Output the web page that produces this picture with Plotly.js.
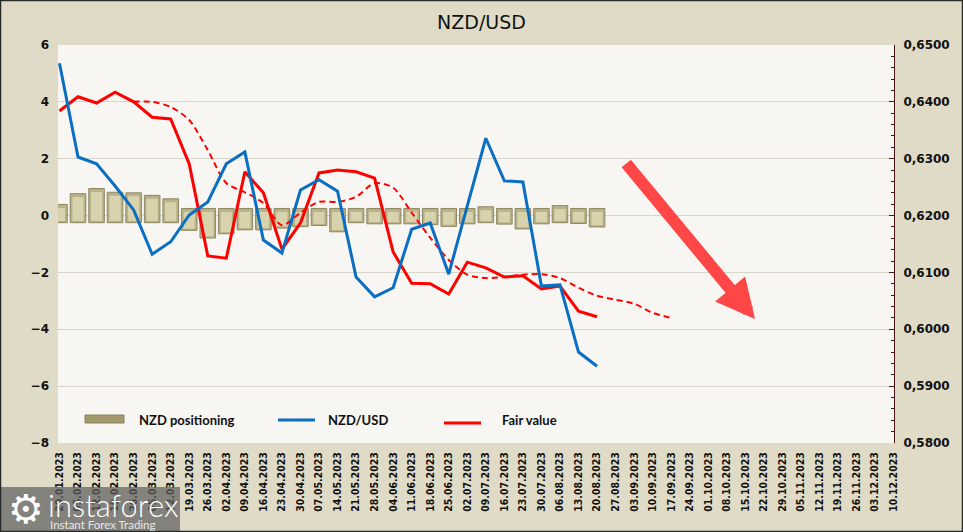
<!DOCTYPE html>
<html>
<head>
<meta charset="utf-8">
<script src="https://cdn.plot.ly/plotly-3.0.1.min.js"></script>
<style>
  html, body { margin: 0; padding: 0; background: #DFDBC7; }
  #chart { width: 963px; height: 532px; }
</style>
</head>
<body>
<div id="chart"></div>
<script>
// weekly dates on the category axis
const dates = [
  '29.01.2023', '05.02.2023', '12.02.2023', '19.02.2023', '26.02.2023',
  '05.03.2023', '12.03.2023', '19.03.2023', '26.03.2023',
  '02.04.2023', '09.04.2023', '16.04.2023', '23.04.2023', '30.04.2023',
  '07.05.2023', '14.05.2023', '21.05.2023', '28.05.2023',
  '04.06.2023', '11.06.2023', '18.06.2023', '25.06.2023',
  '02.07.2023', '09.07.2023', '16.07.2023', '23.07.2023', '30.07.2023',
  '06.08.2023', '13.08.2023', '20.08.2023', '27.08.2023',
  '03.09.2023', '10.09.2023', '17.09.2023', '24.09.2023',
  '01.10.2023', '08.10.2023', '15.10.2023', '22.10.2023', '29.10.2023',
  '05.11.2023', '12.11.2023', '19.11.2023', '26.11.2023',
  '03.12.2023', '10.12.2023'
];

// NZD positioning (left axis)
const positioning = [
  0.14, 0.52, 0.70, 0.57, 0.55, 0.46, 0.34, -0.27, -0.54, -0.39,
  -0.25, -0.25, -0.19, -0.14, -0.10, -0.32, 0.00, -0.04, -0.04, -0.04,
  -0.07, -0.13, -0.04, 0.06, -0.05, -0.22, -0.04, 0.10, -0.03, -0.15
];

// NZD/USD rate (right axis)
const nzdusd = [
  0.6468, 0.6303, 0.6291, 0.6252, 0.6210, 0.6132, 0.6154, 0.6201, 0.6224, 0.6291,
  0.6312, 0.6157, 0.6134, 0.6245, 0.6263, 0.6243, 0.6092, 0.6057, 0.6073, 0.6176,
  0.6187, 0.6097, 0.6217, 0.6336, 0.6261, 0.6259, 0.6076, 0.6078, 0.5960, 0.5935
];

// fair value (right axis)
const fairValue = [
  0.6384, 0.6409, 0.6398, 0.6417, 0.6400, 0.6373, 0.6370, 0.6291, 0.6129, 0.6125,
  0.6277, 0.6240, 0.6141, 0.6187, 0.6275, 0.6280, 0.6277, 0.6266, 0.6136, 0.6081,
  0.6080, 0.6062, 0.6118, 0.6108, 0.6092, 0.6094, 0.6071, 0.6076, 0.6032, 0.6022
];

// smoothed fair value, starts at 26.02 and runs to 17.09
const fairTrendStart = 4;
const fairTrend = [
  0.6400, 0.6400, 0.6391, 0.6368, 0.6315, 0.6257, 0.6241, 0.6222, 0.6183, 0.6205,
  0.6224, 0.6224, 0.6233, 0.6257, 0.6249, 0.6205, 0.6161, 0.6122, 0.6096, 0.6090,
  0.6092, 0.6096, 0.6097, 0.6090, 0.6073, 0.6059, 0.6052, 0.6045, 0.6029, 0.6020
];

// plot area in pixels, used for the hand-made legend and decorations
const PL = 58, PR = 894, PT = 45, PB = 443;
const px = x => (x - PL) / (PR - PL);
const py = y => (PB - y) / (PB - PT);

const legendFont = 'Lato, "Open Sans", sans-serif';
const axisFont = '"DejaVu Sans", Verdana, sans-serif';

// bars are drawn with a bit of thickness on both sides of zero (bevelled look)
const barX = dates.slice(0, positioning.length);
const bars = {
  x: barX,
  y: positioning.map(v => Math.abs(v) + 0.5),
  base: positioning.map(v => Math.min(v, 0) - 0.25),
  type: 'bar',
  name: 'NZD positioning',
  width: 0.84,
  marker: { color: '#B9B188', line: { color: '#8E8763', width: 1 } },
  yaxis: 'y',
  showlegend: false
};
const barFaces = {
  x: barX,
  y: positioning.map(v => Math.abs(v) + 0.5 - 0.18),
  base: positioning.map(v => Math.min(v, 0) - 0.25 + 0.06),
  type: 'bar',
  width: 0.6,
  marker: { color: '#D8D2AD', line: { width: 0 } },
  yaxis: 'y',
  showlegend: false
};

const trend = {
  x: dates.slice(fairTrendStart, fairTrendStart + fairTrend.length),
  y: fairTrend,
  type: 'scatter',
  mode: 'lines',
  line: { color: '#FF0000', width: 2, dash: '6px,4px', shape: 'spline', smoothing: 0.8 },
  yaxis: 'y2',
  showlegend: false
};

const fair = {
  x: dates.slice(0, fairValue.length),
  y: fairValue,
  type: 'scatter',
  mode: 'lines',
  name: 'Fair value',
  line: { color: '#FF0000', width: 3 },
  yaxis: 'y2',
  showlegend: false
};

const rate = {
  x: dates.slice(0, nzdusd.length),
  y: nzdusd,
  type: 'scatter',
  mode: 'lines',
  name: 'NZD/USD',
  line: { color: '#0A6FC2', width: 3 },
  yaxis: 'y2',
  showlegend: false
};

const layout = {
  width: 963,
  height: 532,
  autosize: false,
  margin: { l: PL, r: 963 - PR, t: PT, b: 532 - PB, pad: 0 },
  paper_bgcolor: '#DFDBC7',
  plot_bgcolor: '#F7F6F2',
  separators: ',.',
  barmode: 'overlay',
  title: {
    text: 'NZD/USD',
    font: { family: axisFont, size: 19, color: '#111111' },
    x: 0.5, xanchor: 'center',
    y: 1 - 22 / 532, yref: 'container', yanchor: 'middle'
  },
  xaxis: {
    type: 'category',
    categoryorder: 'array',
    categoryarray: dates,
    range: [-0.08, dates.length - 1 + 0.02],
    tickangle: -90,
    tickfont: { family: '"Liberation Sans Narrow", "DejaVu Sans Condensed", sans-serif', size: 10.5, color: '#111111', weight: 'bold' },
    ticks: '',
    ticklabelstandoff: 6,
    showgrid: false,
    showline: false,
    zeroline: false,
    fixedrange: true
  },
  yaxis: {
    range: [-8, 6],
    dtick: 2,
    tick0: 0,
    tickfont: { family: axisFont, size: 12, color: '#111111', weight: 'bold' },
    ticklabelstandoff: 8,
    showgrid: true,
    gridcolor: '#D8D5CD',
    gridwidth: 1,
    zeroline: false,
    showline: false,
    ticks: ''
  },
  yaxis2: {
    overlaying: 'y',
    side: 'right',
    range: [0.58, 0.65],
    dtick: 0.01,
    tick0: 0.58,
    tickformat: '.4f',
    tickfont: { family: axisFont, size: 12, color: '#111111', weight: 'bold' },
    ticklabelstandoff: 6,
    showgrid: false,
    zeroline: false,
    showline: true,
    linecolor: '#4A1414',
    linewidth: 1,
    ticks: 'inside',
    ticklen: 5,
    tickcolor: '#4A1414',
    minor: { dtick: 0.002, ticks: 'inside', ticklen: 3, tickcolor: '#4A1414' }
  },
  shapes: [
    // legend swatches
    { type: 'rect', xref: 'paper', yref: 'paper', x0: px(85), x1: px(124), y0: py(423), y1: py(415),
      fillcolor: '#A29A6C', line: { color: '#8C845C', width: 1 } },
    { type: 'line', xref: 'paper', yref: 'paper', x0: px(278), x1: px(315), y0: py(420), y1: py(420),
      line: { color: '#0A6FC2', width: 3 } },
    { type: 'line', xref: 'paper', yref: 'paper', x0: px(444), x1: px(481), y0: py(423), y1: py(423),
      line: { color: '#FF0000', width: 3 } },
    // watermark box
    { type: 'rect', xref: 'paper', yref: 'paper', x0: px(0), x1: px(180), y0: py(532), y1: py(487),
      fillcolor: 'rgba(95,95,95,0.72)', line: { width: 0 }, layer: 'above' },
    // outer frame
    { type: 'rect', xref: 'paper', yref: 'paper', x0: px(0.5), x1: px(962.5), y0: py(531.5), y1: py(0.5),
      line: { color: '#2A2A2A', width: 1.5 }, layer: 'above' }
  ],
  annotations: [
    { xref: 'paper', yref: 'paper', x: px(137), y: py(420), xanchor: 'left', yanchor: 'middle',
      text: 'NZD positioning', showarrow: false,
      font: { family: legendFont, size: 13, color: '#111111', weight: 'bold' } },
    { xref: 'paper', yref: 'paper', x: px(326), y: py(420), xanchor: 'left', yanchor: 'middle',
      text: 'NZD/USD', showarrow: false,
      font: { family: legendFont, size: 13, color: '#111111', weight: 'bold' } },
    { xref: 'paper', yref: 'paper', x: px(500), y: py(420), xanchor: 'left', yanchor: 'middle',
      text: 'Fair value', showarrow: false,
      font: { family: legendFont, size: 13, color: '#111111', weight: 'bold' } },
    // big red arrow
    { xref: 'paper', yref: 'paper', x: px(755), y: py(319), text: '', showarrow: true,
      ax: -130, ay: -157, arrowcolor: '#FF4747', arrowwidth: 12, arrowhead: 2, arrowsize: 0.65, standoff: 0 },
    // watermark
    { xref: 'paper', yref: 'paper', x: px(26), y: py(509), xanchor: 'center', yanchor: 'middle',
      text: '\u2699', showarrow: false, font: { family: axisFont, size: 40, color: '#FFFFFF' } },
    { xref: 'paper', yref: 'paper', x: px(46), y: py(505), xanchor: 'left', yanchor: 'middle',
      text: 'instaforex', showarrow: false, font: { family: 'Lato, sans-serif', size: 31, color: '#FFFFFF', weight: 300 } },
    { xref: 'paper', yref: 'paper', x: px(48), y: py(524), xanchor: 'left', yanchor: 'middle',
      text: 'Instant Forex Trading', showarrow: false, font: { family: 'Lato, sans-serif', size: 11.5, color: '#E8E8E8' } }
  ]
};

const config = { displayModeBar: false, responsive: false, staticPlot: true };

Plotly.newPlot('chart', [bars, barFaces, trend, fair, rate], layout, config);
</script>
</body>
</html>
